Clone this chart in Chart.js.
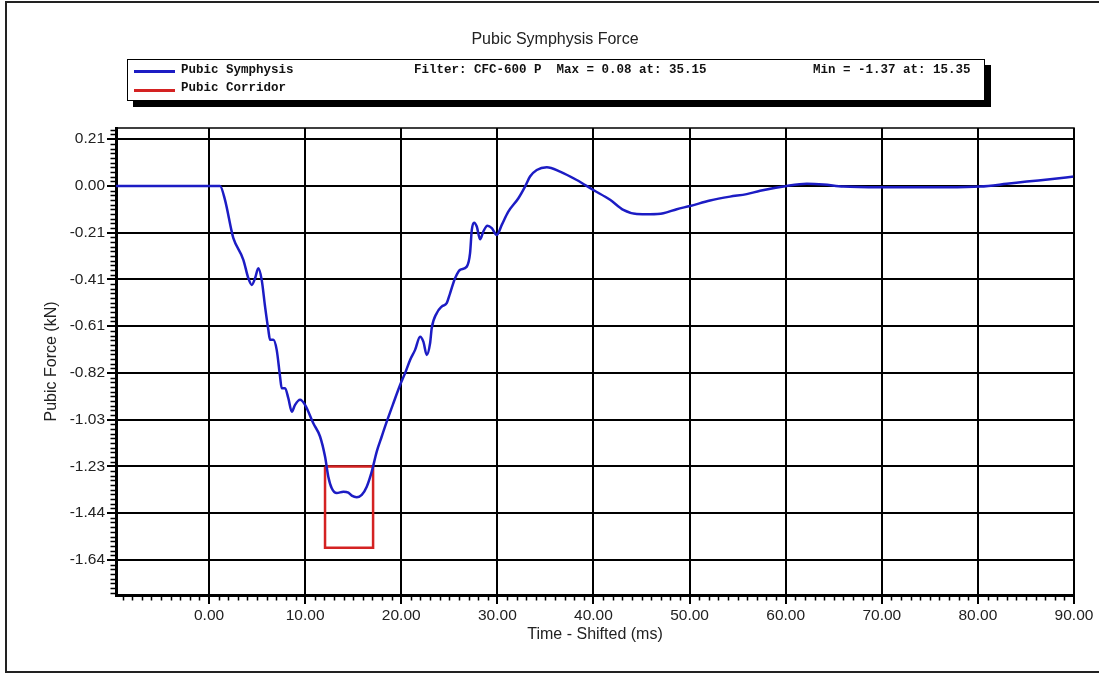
<!DOCTYPE html>
<html>
<head>
<meta charset="utf-8">
<script src="https://cdn.jsdelivr.net/npm/chart.js@4/dist/chart.umd.min.js"></script>
<style>
  html, body { margin:0; padding:0; background:#fff; }
  #wrap { position:relative; width:1099px; height:674px; overflow:hidden; background:#fff; }
  #frame { position:absolute; left:5px; top:1px; width:1200px; height:672px; border:2px solid #222; box-sizing:border-box; }
  #c { position:absolute; left:0; top:0; }
  #legend { position:absolute; left:127px; top:59px; width:858px; height:42px; border:1.5px solid #000; background:#fff; box-shadow:6px 6px 0 #000; box-sizing:border-box; font-family:"Liberation Mono","Courier New",monospace; font-weight:bold; font-size:12.5px; color:#111; }
  #legend .ln { position:absolute; left:6px; width:41px; height:3px; }
  #legend .tx { position:absolute; white-space:pre; line-height:15px; }
</style>
</head>
<body>
<div id="wrap">
  <div id="frame"></div>
  <canvas id="c" width="1099" height="674"></canvas>
  <div id="legend">
    <div class="ln" style="top:10px;background:#1c1cc4;"></div>
    <div class="tx" style="left:53px;top:3px;">Pubic Symphysis</div>
    <div class="tx" style="left:286px;top:3px;">Filter: CFC-600 P  Max = 0.08 at: 35.15</div>
    <div class="tx" style="left:685px;top:3px;">Min = -1.37 at: 15.35</div>
    <div class="ln" style="top:29px;background:#d42222;"></div>
    <div class="tx" style="left:53px;top:21px;">Pubic Corridor</div>
  </div>
</div>
<script>
// ---- data ----
const timeMs = [-9.68, 1.14, 1.66, 2.36, 2.53, 3.57, 4.09, 4.44, 4.79, 5.13, 5.48, 5.83, 6.17, 6.35, 6.69, 7.04, 7.39, 7.56, 7.91, 8.25,
  8.61, 8.95, 9.47, 9.99, 10.85, 11.55, 12.07, 12.41, 12.77, 13.29, 13.98, 14.50, 14.85, 15.37, 15.89, 16.41, 16.93, 17.45, 17.97, 18.49,
  19.18, 19.88, 20.40, 20.92, 21.44, 21.96, 22.30, 22.65, 23.00, 23.17, 23.69, 24.21, 24.73, 25.08, 25.60, 26.12, 26.82, 27.16, 27.34, 27.58,
  27.86, 28.20, 28.54, 28.96, 29.42, 29.94, 30.46, 31.14, 32.19, 32.88, 33.40, 34.10, 35.14, 36.52, 38.26, 39.99, 41.73, 43.11, 44.51, 45.89,
  47.27, 48.67, 50.05, 52.13, 54.21, 55.95, 57.34, 60.11, 62.20, 63.92, 66.00, 69.82, 76.76, 80.23, 83.01, 85.09, 87.51, 90.00];
const forceKN = [0, 0, -0.061, -0.200, -0.229, -0.324, -0.405, -0.434, -0.405, -0.361, -0.412, -0.529, -0.631, -0.675, -0.675, -0.719, -0.836, -0.887, -0.887, -0.931,
  -0.990, -0.960, -0.938, -0.960, -1.041, -1.099, -1.187, -1.275, -1.326, -1.347, -1.341, -1.345, -1.358, -1.365, -1.355, -1.319, -1.253, -1.165, -1.099, -1.034,
  -0.953, -0.873, -0.821, -0.763, -0.719, -0.661, -0.683, -0.741, -0.690, -0.624, -0.558, -0.529, -0.514, -0.471, -0.405, -0.368, -0.354, -0.295, -0.193, -0.161,
  -0.178, -0.234, -0.200, -0.175, -0.185, -0.215, -0.171, -0.113, -0.054, -0.003, 0.041, 0.070, 0.082, 0.063, 0.026, -0.018, -0.061, -0.105, -0.123, -0.124,
  -0.120, -0.102, -0.088, -0.064, -0.047, -0.036, -0.021, 0.000, 0.009, 0.006, -0.003, -0.006, -0.006, -0.003, 0.009, 0.019, 0.029, 0.041];
const corridorTime = [12.07, 12.07, 17.07, 17.07, 12.07];
const corridorForce = [-1.23, -1.587, -1.587, -1.23, -1.23];
const xTickValues = [0, 10, 20, 30, 40, 50, 60, 70, 80, 90];
const xTickLabels = ['0.00', '10.00', '20.00', '30.00', '40.00', '50.00', '60.00', '70.00', '80.00', '90.00'];
const yTickValues = [0.205, 0, -0.205, -0.41, -0.615, -0.82, -1.025, -1.23, -1.435, -1.64];
const yTickLabels = ['0.21', '0.00', '-0.21', '-0.41', '-0.61', '-0.82', '-1.03', '-1.23', '-1.44', '-1.64'];
const xRange = [-9.68, 90];
const yRange = [-1.794, 0.254];
const xMinorStep = 1;
const yMinorStep = 0.0205;

const FONT = '"Liberation Sans", Arial, Helvetica, sans-serif';

const frameAndMinor = {
  id: 'frameAndMinor',
  afterDatasetsDraw(chart) {
    const {ctx, chartArea: a, scales: {x, y}} = chart;
    ctx.save();
    ctx.strokeStyle = '#000';
    ctx.lineWidth = 1.5;
    ctx.beginPath();
    ctx.moveTo(a.left, a.top); ctx.lineTo(a.right, a.top); ctx.lineTo(a.right, a.bottom);
    ctx.stroke();
    ctx.beginPath();
    const kx0 = Math.ceil(x.min / xMinorStep), kx1 = Math.floor(x.max / xMinorStep);
    for (let k = kx0; k <= kx1; k++) {
      if (k % 10 === 0) continue;
      const px = Math.round(x.getPixelForValue(k * xMinorStep)) + 0.5;
      ctx.moveTo(px, a.bottom); ctx.lineTo(px, a.bottom + 5.5);
    }
    const ky0 = Math.ceil(y.min / yMinorStep), ky1 = Math.floor(y.max / yMinorStep);
    for (let k = ky0; k <= ky1; k++) {
      if (k % 10 === 0) continue;
      const py = Math.round(y.getPixelForValue(k * yMinorStep)) + 0.5;
      ctx.moveTo(a.left, py); ctx.lineTo(a.left - 5.5, py);
    }
    ctx.stroke();
    ctx.restore();
  }
};

new Chart(document.getElementById('c'), {
  type: 'line',
  data: {
    datasets: [
      {
        label: 'Pubic Symphysis',
        data: timeMs.map((t, i) => ({x: t, y: forceKN[i]})),
        borderColor: '#1c1cc4',
        borderWidth: 2.5,
        pointRadius: 0,
        cubicInterpolationMode: 'monotone',
        fill: false
      },
      {
        label: 'Pubic Corridor',
        data: corridorTime.map((t, i) => ({x: t, y: corridorForce[i]})),
        borderColor: '#d42222',
        borderWidth: 2.5,
        pointRadius: 0,
        tension: 0,
        fill: false
      }
    ]
  },
  options: {
    responsive: false,
    animation: false,
    devicePixelRatio: 1,
    layout: { padding: {left: 11, right: 0, top: 0, bottom: 0} },
    plugins: {
      legend: { display: false },
      tooltip: { enabled: false },
      title: {
        display: true,
        text: 'Pubic Symphysis Force',
        color: '#222',
        font: { family: FONT, size: 16, weight: 'normal' },
        padding: { top: 30.4, bottom: 78.4 }
      }
    },
    scales: {
      x: {
        type: 'linear',
        min: xRange[0],
        max: xRange[1],
        afterBuildTicks: s => { s.ticks = xTickValues.map(v => ({value: v})); },
        afterFit: s => { s.height = 79; s.paddingRight = 25; s.paddingLeft = 0; },
        ticks: {
          autoSkip: false,
          maxRotation: 0,
          color: '#222',
          padding: 2,
          font: { family: FONT, size: 15.5 },
          callback: (v, i) => xTickLabels[i]
        },
        grid: { color: '#000', lineWidth: 2, tickLength: 9, tickColor: '#000', tickWidth: 2 },
        border: { display: true, color: '#000', width: 3 },
        title: { display: true, text: 'Time - Shifted (ms)', color: '#222', font: { family: FONT, size: 16 }, padding: { top: 0, bottom: 29.4 } }
      },
      y: {
        type: 'linear',
        min: yRange[0],
        max: yRange[1],
        afterBuildTicks: s => { s.ticks = yTickValues.map(v => ({value: v})); },
        afterFit: s => { s.width = 105; },
        ticks: {
          autoSkip: false,
          color: '#222',
          padding: 2,
          font: { family: FONT, size: 15.5 },
          callback: (v, i) => yTickLabels[i]
        },
        grid: { color: '#000', lineWidth: 2, tickLength: 9, tickColor: '#000', tickWidth: 2 },
        border: { display: true, color: '#000', width: 3 },
        title: { display: true, text: 'Pubic Force (kN)', color: '#222', font: { family: FONT, size: 16 }, padding: { top: 31.4, bottom: 0 } }
      }
    }
  },
  plugins: [frameAndMinor]
});
</script>
</body>
</html>
